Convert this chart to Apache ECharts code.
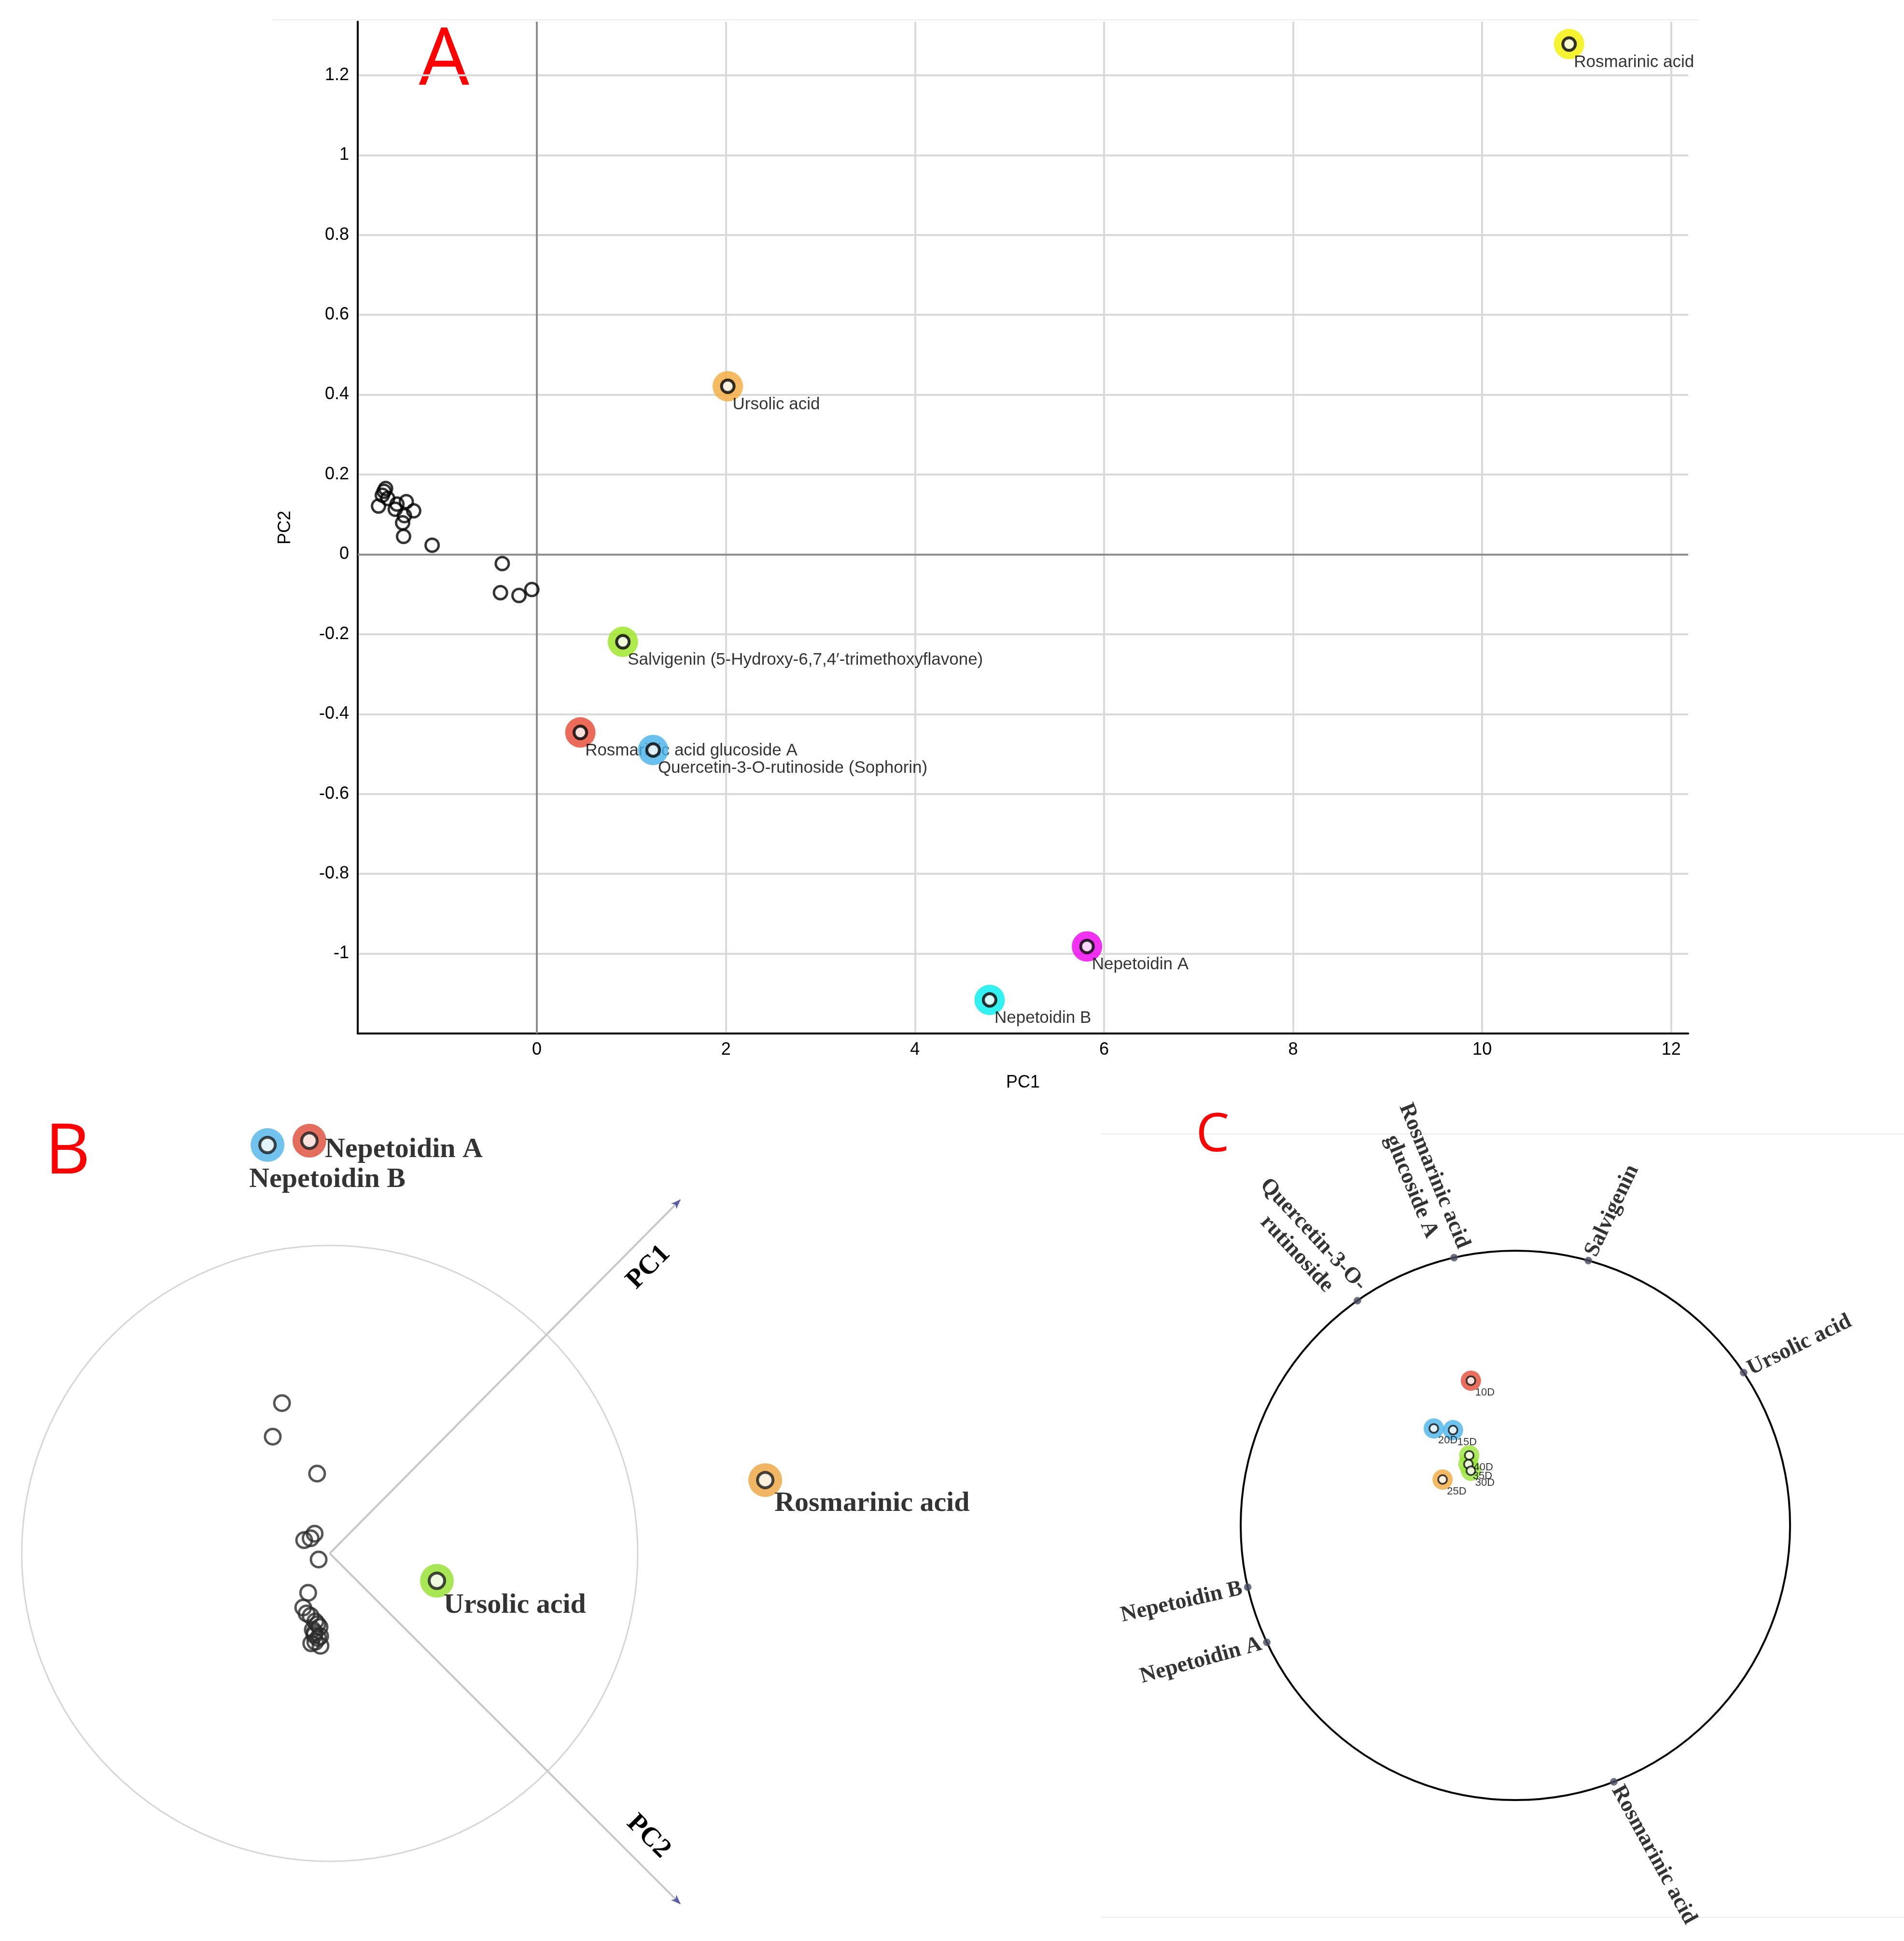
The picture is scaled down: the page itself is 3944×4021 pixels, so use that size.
<!DOCTYPE html>
<html><head><meta charset="utf-8">
<script src="https://cdn.jsdelivr.net/npm/echarts@6/dist/echarts.min.js"></script>
<style>html,body{margin:0;padding:0;background:#fff}#c{width:3944px;height:4021px}</style>
</head><body><div id="c"></div>
<script>
// ================= DATA =================
// Panel A (PCA score plot)
const aNames = ['Rosmarinic acid', 'Ursolic acid', 'Salvigenin (5-Hydroxy-6,7,4\u2032-trimethoxyflavone)',
  'Rosmarinic acid glucoside A', 'Quercetin-3-O-rutinoside (Sophorin)', 'Nepetoidin A', 'Nepetoidin B'];
const aPC1 = [10.92, 2.02, 0.91, 0.46, 1.23, 5.82, 4.79];
const aPC2 = [1.278, 0.421, -0.219, -0.446, -0.490, -0.982, -1.116];
const aOtherPC1 = [-1.616, -1.635, -1.675, -1.578, -1.498, -1.381, -1.303, -1.401, -1.420, -1.410, -1.600, -1.480, -1.108, -0.366, -0.385, -0.189, -0.053];
const aOtherPC2 = [0.158, 0.148, 0.121, 0.140, 0.113, 0.132, 0.109, 0.097, 0.079, 0.045, 0.165, 0.126, 0.023, -0.023, -0.096, -0.103, -0.088];
const aXTicks = [0, 2, 4, 6, 8, 10, 12];
const aYTicks = [-1, -0.8, -0.6, -0.4, -0.2, 0, 0.2, 0.4, 0.6, 0.8, 1, 1.2];
const aXRange = [-1.895, 12.18];
const aYRange = [-1.2, 1.334];

// Panel B (rotated biplot, units of circle radius)
const bNames = ['Nepetoidin B', 'Nepetoidin A', 'Rosmarinic acid', 'Ursolic acid'];
const bX = [-0.202, -0.066, 1.414, 0.348];
const bY = [1.326, 1.340, 0.238, -0.089];
const bOtherX = [-0.155, -0.185, -0.041, -0.049, -0.083, -0.062, -0.036, -0.070, -0.086, -0.062, -0.047, -0.033, -0.049, -0.031, -0.047,
  -0.075, -0.040, -0.055, -0.038, -0.060, -0.030, -0.050];
const bOtherY = [0.488, 0.379, 0.259, 0.064, 0.043, 0.049, -0.020, -0.128, -0.176, -0.203, -0.221, -0.239, -0.257, -0.269, -0.287,
  -0.195, -0.230, -0.248, -0.275, -0.292, -0.300, -0.265];
const bAxisNames = ['PC1', 'PC2'];
const bAxisEndX = [1.139, 1.139];
const bAxisEndY = [1.149, -1.139];

// Panel C (loadings on circle + sample scores)
const cVarNames = ['Rosmarinic acid\nglucoside A', 'Salvigenin', 'Quercetin-3-O-\nrutinoside', 'Ursolic acid', 'Nepetoidin B', 'Nepetoidin A', 'Rosmarinic acid'];
const cVarAngle = [102.9, 74.6, 125.1, 33.8, 193.0, 205.2, 291.0];
const cSampleNames = ['10D', '20D', '15D', '40D', '35D', '30D', '25D'];
const cSampleX = [-0.162, -0.297, -0.227, -0.168, -0.171, -0.162, -0.265];
const cSampleY = [0.527, 0.353, 0.347, 0.255, 0.223, 0.199, 0.167];

// ================= STYLE =================
const SANS = '"Liberation Sans", Arial, sans-serif';
const SERIF = '"Liberation Serif", "Times New Roman", serif';
const aColors = ['#f4f000', '#f2a93b', '#9be51f', '#e5462f', '#45b2ea', '#ee00ee', '#00eeee'];
const bColors = ['#4db3e8', '#dc4a36', '#eea43c', '#94e02c'];
const bLabelOffset = [[-38, 72], [32, 19], [19, 49], [14, 51]];
const cSampleColors = ['#e24b35', '#4ab3ea', '#4ab3ea', '#98e33a', '#98e33a', '#98e33a', '#f0a83e'];
const cLabelRotate = [-67.7, 64.5, -47, 26.2, 12.8, 15.5, -61.3];

const A_GRID = {left: 741, top: 45, width: 2756, height: 2096};
const B_CENTER = [683, 3218], B_R = 638, B_XR = [-1, 1.6], B_YR = [-1.2, 1.45];
const C_CENTER = [3139, 3160], C_R = 569;

// ================= OPTION =================
const series = [];

// --- Panel A ---
series.push({
  type: 'scatter', xAxisIndex: 0, yAxisIndex: 0, z: 5, silent: true,
  symbolSize: 27,
  itemStyle: {color: 'rgba(0,0,0,0)', borderColor: '#000', borderWidth: 5},
  data: aOtherPC1.map((x, i) => [x, aOtherPC2[i]]),
  markLine: {
    silent: true, symbol: 'none', label: {show: false},
    lineStyle: {color: '#8c8c8c', width: 4, type: 'solid'},
    data: [{xAxis: 0}, {yAxis: 0}]
  }
});
aNames.forEach((n, i) => {
  series.push({
    type: 'scatter', xAxisIndex: 0, yAxisIndex: 0, z: 10 + 2 * i, silent: true,
    symbolSize: 63, itemStyle: {color: aColors[i]},
    data: [[aPC1[i], aPC2[i]]]
  });
  series.push({
    type: 'scatter', xAxisIndex: 0, yAxisIndex: 0, z: 11 + 2 * i, silent: true,
    symbolSize: 26, itemStyle: {color: '#fff', borderColor: '#000', borderWidth: 6},
    data: [{name: n, value: [aPC1[i], aPC2[i]]}],
    label: {show: true, position: 'inside', align: 'left', verticalAlign: 'middle',
      offset: [10, 38], formatter: '{b}', fontSize: 35, fontFamily: SANS, color: '#000'}
  });
});

// --- Panel B ---
series.push({
  type: 'scatter', xAxisIndex: 1, yAxisIndex: 1, z: 5, silent: true,
  symbolSize: 32,
  itemStyle: {color: 'rgba(0,0,0,0)', borderColor: '#2a2a2a', borderWidth: 5},
  data: bOtherX.map((x, i) => [x, bOtherY[i]]),
  markLine: {
    silent: true, symbol: 'none',
    lineStyle: {color: '#c8c8c8', width: 4, type: 'solid'},
    label: {show: true, formatter: '{b}', fontFamily: SERIF, fontWeight: 'bold', fontSize: 56, color: '#000', distance: [95, 24]},
    data: bAxisNames.map((n, i) => [
      {coord: [0, 0]},
      {coord: [bAxisEndX[i], bAxisEndY[i]], name: n, label: {position: i === 0 ? 'insideEndBottom' : 'insideEndTop'}}
    ])
  }
});
series.push({
  type: 'scatter', xAxisIndex: 1, yAxisIndex: 1, z: 6, silent: true,
  symbol: 'arrow', symbolSize: [12, 20], itemStyle: {color: '#3c3c9c'},
  data: bAxisNames.map((n, i) => ({
    value: [bAxisEndX[i], bAxisEndY[i]],
    symbolRotate: Math.atan2(bAxisEndY[i], bAxisEndX[i]) * 180 / Math.PI - 90
  }))
});
series.push({
  type: 'scatter', xAxisIndex: 1, yAxisIndex: 1, z: 7, silent: true,
  symbolSize: 70,
  data: bNames.map((n, i) => ({value: [bX[i], bY[i]], itemStyle: {color: bColors[i]}}))
});
series.push({
  type: 'scatter', xAxisIndex: 1, yAxisIndex: 1, z: 8, silent: true,
  symbolSize: 32, itemStyle: {color: '#fff', borderColor: '#1a1a1a', borderWidth: 6},
  data: bNames.map((n, i) => ({name: n, value: [bX[i], bY[i]], label: {offset: bLabelOffset[i]}})),
  label: {show: true, position: 'inside', align: 'left', verticalAlign: 'middle',
    formatter: '{b}', fontSize: 58, fontWeight: 'bold', fontFamily: SERIF, color: '#000'}
});

// --- Panel C ---
const cLabFont = {fontFamily: SERIF, fontWeight: 'bold', fontSize: 46, color: '#000', lineHeight: 52};
series.push({
  type: 'scatter', coordinateSystem: 'polar', polarIndex: 1, z: 5, silent: true,
  symbolSize: 15, itemStyle: {color: '#474b60', borderColor: '#6a6e82', borderWidth: 1},
  data: cVarNames.map((n, i) => {
    const a = cVarAngle[i];
    const leftSide = a > 90 && a < 270;
    return {
      name: n, value: [1, a],
      label: {rotate: cLabelRotate[i], align: leftSide ? 'right' : 'left',
        padding: leftSide ? [0, 12, 0, 0] : [0, 0, 0, 12]}
    };
  }),
  label: {
    show: true, position: 'inside', verticalAlign: 'middle',
    formatter: p => p.name.split('\n').map((l, k) => (k === 0 ? '{a|' : '{b|') + l + '}').join('\n'),
    rich: {
      a: Object.assign({}, cLabFont),
      b: Object.assign({padding: [0, 45, 0, 0]}, cLabFont)
    }
  }
});
series.push({
  type: 'scatter', xAxisIndex: 2, yAxisIndex: 2, z: 6, silent: true,
  symbolSize: 42,
  data: cSampleNames.map((n, i) => ({value: [cSampleX[i], cSampleY[i]], itemStyle: {color: cSampleColors[i]}}))
});
series.push({
  type: 'scatter', xAxisIndex: 2, yAxisIndex: 2, z: 7, silent: true,
  symbolSize: 18, itemStyle: {color: '#fff', borderColor: '#111', borderWidth: 3.5},
  data: cSampleNames.map((n, i) => ({name: n, value: [cSampleX[i], cSampleY[i]]})),
  label: {show: true, position: 'inside', align: 'left', verticalAlign: 'middle',
    offset: [9, 25], formatter: '{b}', fontSize: 22, fontFamily: SANS, color: '#000'}
});

const hiddenAxis = (g, r) => ({gridIndex: g, type: 'value', min: r[0], max: r[1], show: false});

const option = {
  backgroundColor: '#ffffff',
  animation: false,
  grid: [
    Object.assign({outerBoundsMode: 'none'}, A_GRID),
    {outerBoundsMode: 'none', left: B_CENTER[0] + B_XR[0] * B_R, top: B_CENTER[1] - B_YR[1] * B_R,
      width: (B_XR[1] - B_XR[0]) * B_R, height: (B_YR[1] - B_YR[0]) * B_R},
    {outerBoundsMode: 'none', left: C_CENTER[0] - C_R, top: C_CENTER[1] - C_R, width: 2 * C_R, height: 2 * C_R}
  ],
  xAxis: [
    {gridIndex: 0, type: 'value', min: aXRange[0], max: aXRange[1],
      axisLine: {show: true, onZero: false, lineStyle: {color: '#000', width: 4}},
      axisTick: {show: false, customValues: aXTicks},
      axisLabel: {customValues: aXTicks, fontSize: 36, fontFamily: SANS, color: '#000', margin: 16},
      splitLine: {show: true, lineStyle: {color: '#d9d9d9', width: 4}},
      name: 'PC1', nameLocation: 'middle', nameGap: 84,
      nameTextStyle: {fontSize: 36, fontFamily: SANS, color: '#000'}},
    hiddenAxis(1, B_XR),
    hiddenAxis(2, [-1, 1])
  ],
  yAxis: [
    {gridIndex: 0, type: 'value', min: aYRange[0], max: aYRange[1],
      axisLine: {show: true, onZero: false, lineStyle: {color: '#000', width: 4}},
      axisTick: {show: false, customValues: aYTicks},
      axisLabel: {customValues: aYTicks, fontSize: 36, fontFamily: SANS, color: '#000', margin: 18},
      splitLine: {show: true, lineStyle: {color: '#d9d9d9', width: 4}},
      name: 'PC2', nameLocation: 'middle', nameGap: 132, nameRotate: 90,
      nameTextStyle: {fontSize: 36, fontFamily: SANS, color: '#000'}},
    hiddenAxis(1, B_YR),
    hiddenAxis(2, [-1, 1])
  ],
  polar: [
    {center: B_CENTER, radius: B_R},
    {center: C_CENTER, radius: C_R}
  ],
  angleAxis: [
    {polarIndex: 0, type: 'value', min: 0, max: 360, startAngle: 0, clockwise: false,
      axisLine: {show: true, lineStyle: {color: '#d6d6d6', width: 3}},
      axisTick: {show: false}, axisLabel: {show: false}, splitLine: {show: false}, splitArea: {show: false}},
    {polarIndex: 1, type: 'value', min: 0, max: 360, startAngle: 0, clockwise: false,
      axisLine: {show: true, lineStyle: {color: '#000', width: 4}},
      axisTick: {show: false}, axisLabel: {show: false}, splitLine: {show: false}, splitArea: {show: false}}
  ],
  radiusAxis: [
    {polarIndex: 0, type: 'value', min: 0, max: 1, axisLine: {show: false}, axisTick: {show: false},
      axisLabel: {show: false}, splitLine: {show: false}, splitArea: {show: false}},
    {polarIndex: 1, type: 'value', min: 0, max: 1, axisLine: {show: false}, axisTick: {show: false},
      axisLabel: {show: false}, splitLine: {show: false}, splitArea: {show: false}}
  ],
  graphic: [
    {type: 'line', silent: true, shape: {x1: 564, y1: 41, x2: 3519, y2: 41}, style: {stroke: '#ececec', lineWidth: 2}},
    {type: 'line', silent: true, shape: {x1: 2281, y1: 2349, x2: 3944, y2: 2349}, style: {stroke: '#ececec', lineWidth: 2}},
    {type: 'line', silent: true, shape: {x1: 2281, y1: 3972, x2: 3944, y2: 3972}, style: {stroke: '#ececec', lineWidth: 2}},
    {type: 'text', silent: true, x: 920, y: 128, style: {text: 'A', font: '165px "Open Sans", "Liberation Sans", sans-serif', fill: '#ff0000', align: 'center', verticalAlign: 'middle'}},
    {type: 'text', silent: true, x: 140, y: 2390, style: {text: 'B', font: '145px "Open Sans", "Liberation Sans", sans-serif', fill: '#ff0000', align: 'center', verticalAlign: 'middle'}},
    {type: 'text', silent: true, x: 2512, y: 2354, style: {text: 'C', font: '110px "Open Sans", "Liberation Sans", sans-serif', fill: '#ff0000', align: 'center', verticalAlign: 'middle'}}
  ],
  series: series
};

const chart = echarts.init(document.getElementById('c'), null, {renderer: 'canvas', width: 3944, height: 4021});
chart.setOption(option);
</script>
</body></html>
